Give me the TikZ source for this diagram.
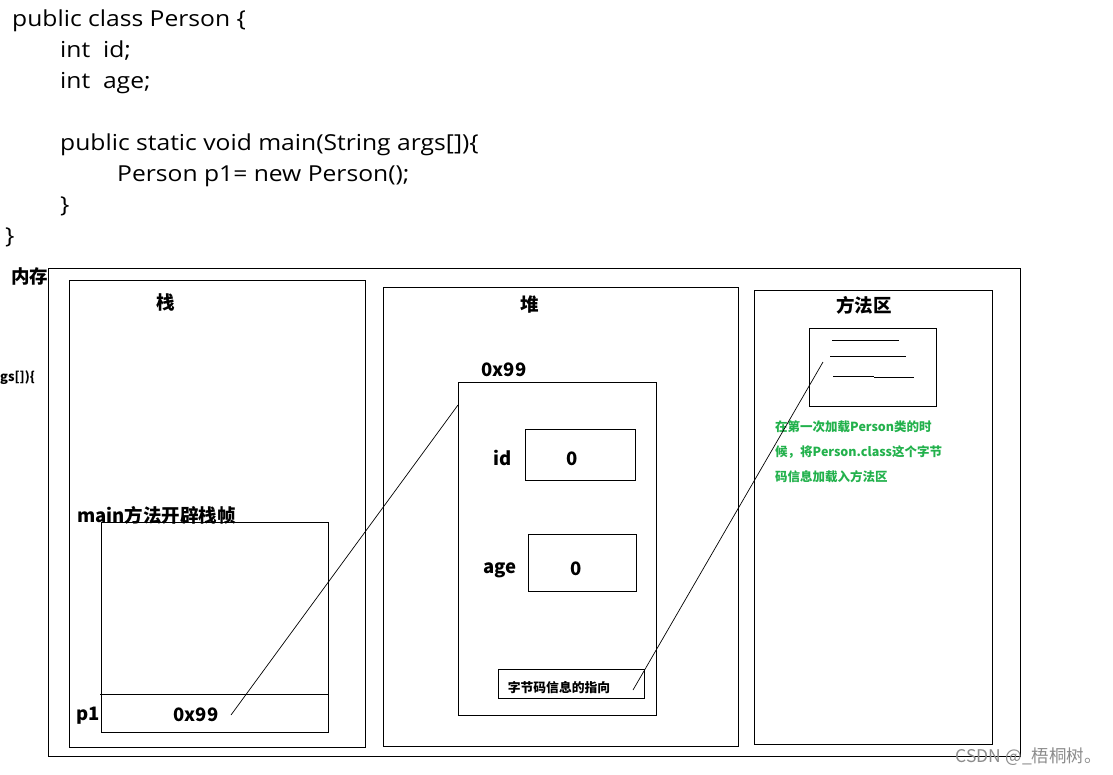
\documentclass[tikz,border=0pt]{standalone}
\usepackage{fontspec}
\setmainfont{Noto Sans CJK SC}
\newfontfamily\codefont[FakeStretch=1.12]{Open Sans}
\begin{document}
\begin{tikzpicture}[x=1pt,y=-1pt,
  box/.style={draw=black,line width=1pt},
  code/.style={anchor=base west,inner sep=0pt,font=\codefont\fontsize{22}{22}\selectfont},
  lbl/.style={inner sep=0pt,font=\fontsize{18.5}{18.5}\selectfont\bfseries},
  small/.style={inner sep=0pt,font=\fontsize{12.8}{12.8}\selectfont\bfseries},
  note/.style={anchor=base west,inner sep=0pt,text=notegreen,font=\fontsize{12.5}{12.5}\selectfont\bfseries},
  link/.style={draw=black,line width=0.7pt}]
\definecolor{notegreen}{RGB}{34,177,76}
\useasboundingbox (0,0) rectangle (1113,774);
% code
\node[code] (c1) at (12,26) {public class Person \{};
\node[code] (c2) at (60,57) {int\ \ id;};
\node[code] (c3) at (60,88) {int\ \ age;};
\node[code] (c4) at (60,150) {public static void main(String args[])\{};
\node[code] (c5) at (117,181) {Person p1= new Person();};
\node[code] (c6) at (60,212) {\}};
\node[code] (c7) at (5,243) {\}};
% memory
\node[lbl,anchor=west] (mem) at (11,276) {内存};
\node[small,anchor=west] (gs) at (0,378) {gs[])\{};
\draw[box] (48,268) rectangle (1020,756);
% stack
\draw[box] (69,280) rectangle (365,747);
\node[lbl] (stack) at (166,302) {栈};
\draw[box] (101,522) rectangle (328,732);
\draw[box] (100,694) -- (328,694);
\node[lbl,anchor=west] (frame) at (77,515) {main方法开辟栈帧};
\node[lbl,anchor=west] (p1) at (76,716) {p1};
\node[lbl] (p1v) at (196,715) {0x99};
\coordinate (s1) at (231,715);
% heap
\draw[box] (383,287) rectangle (738,746);
\node[lbl] (heap) at (530,305) {堆};
\node[lbl] (addr) at (504,370) {0x99};
\draw[box] (458,382) rectangle (656,715);
\coordinate (objtl) at (458,405);
\node[lbl] (idl) at (503,458) {id};
\draw[box] (525,429) rectangle (635,480);
\node[lbl] (idv) at (572,459) {0};
\node[lbl] (agel) at (500,570) {age};
\draw[box] (528,534) rectangle (636,591);
\node[lbl] (agev) at (576,569) {0};
\draw[box] (498,669) rectangle (644,698);
\node[small] (bc) at (559,688) {字节码信息的指向};
\coordinate (bcend) at (633,690);
% method area
\draw[box] (754,290) rectangle (992,744);
\node[lbl] (ma) at (864,305) {方法区};
\draw[box] (809,328) rectangle (936,406);
\draw[box] (832,340) -- (899,340);
\draw[box] (830,356) -- (906,356);
\draw[box] (833,376) -- (874,376);
\draw[box] (874,377) -- (914,377);
\coordinate (maend) at (823,362);
\node[note] (n1) at (775,431) {在第一次加载Person类的时};
\node[note] (n2) at (775,456) {候，将Person.class这个字节};
\node[note] (n3) at (775,481) {码信息加载入方法区};
% links
\draw[link] (s1) -- (objtl);
\draw[link] (bcend) -- (maend);
% watermark
\node[anchor=base east,inner sep=0pt,text=black!45,font=\fontsize{17.5}{17.5}\selectfont] (wm) at (1102,762) {CSDN @\_梧桐树。};
\end{tikzpicture}
\end{document}
